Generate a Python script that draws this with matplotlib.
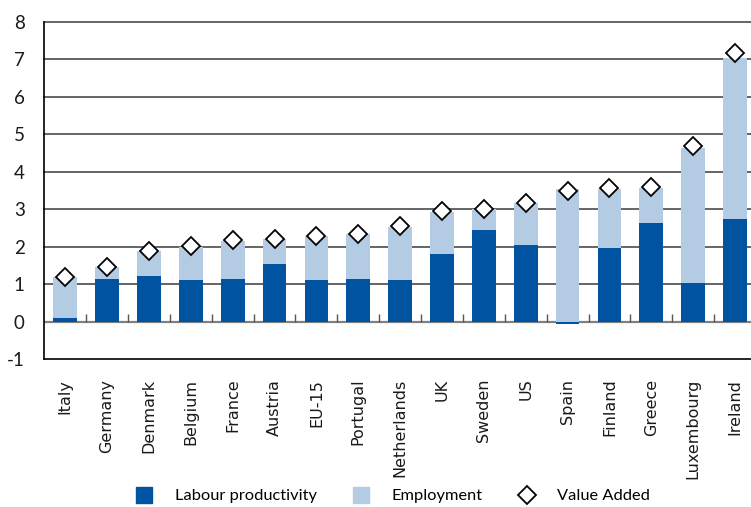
import matplotlib
matplotlib.use("Agg")
import matplotlib.pyplot as plt
from matplotlib.lines import Line2D
import numpy as np

categories = ["Italy", "Germany", "Denmark", "Belgium", "France", "Austria", "EU-15",
              "Portugal", "Netherlands", "UK", "Sweden", "US", "Spain", "Finland",
              "Greece", "Luxembourg", "Ireland"]
labour_productivity = [0.10, 1.14, 1.22, 1.11, 1.14, 1.54, 1.11, 1.14, 1.11, 1.81,
                       2.45, 2.05, -0.05, 1.97, 2.63, 1.03, 2.74]
employment = [1.09, 0.32, 0.67, 0.88, 1.02, 0.67, 1.18, 1.20, 1.42, 1.12,
              0.55, 1.12, 3.54, 1.57, 0.94, 3.60, 4.29]
value_added = [1.20, 1.46, 1.90, 2.02, 2.17, 2.22, 2.30, 2.33, 2.56, 2.95,
               3.00, 3.17, 3.49, 3.56, 3.59, 4.69, 7.16]
y_ticks = [-1, 0, 1, 2, 3, 4, 5, 6, 7, 8]

DARK = "#0053A0"
LIGHT = "#B3CBE3"
FONT = "Lato"

W, H = 751, 507
fig = plt.figure(figsize=(W / 100, H / 100), dpi=100)
left_px, right_px, top_px, bot_px = 44.3, 756.0, 21.7, 359.3
ax = fig.add_axes([left_px / W, 1 - bot_px / H, (right_px - left_px) / W, (bot_px - top_px) / H])

x = np.arange(len(categories))
lp = np.array(labour_productivity)
bottom_emp = np.maximum(lp, 0)

# gridlines
for v in y_ticks[2:]:
    ax.axhline(v, color="#3a3a3a", lw=1.1, zorder=1, clip_on=False)
ax.axhline(0, color="#808080", lw=1.6, zorder=1)
# boundary tick marks on zero line
ax.vlines(x[:-1] + 0.5, 0, 0.22, color="#555555", lw=1.0, zorder=1)

bw = 0.566
ax.bar(x, lp, width=bw, color=DARK, zorder=3, linewidth=0)
ax.bar(x, employment, width=bw, bottom=bottom_emp, color=LIGHT, zorder=3, linewidth=0)
ax.plot(x, value_added, ls="", marker="D", ms=8.7, mfc="white", mec="black", mew=1.3,
        zorder=5, clip_on=False)

ax.set_xlim(-0.5, len(categories) - 0.5)
ax.set_ylim(-1, 8)
ax.set_yticks(y_ticks)
ax.set_yticklabels([str(v) for v in y_ticks], fontsize=13.5, family=FONT, color="#1a1a1a")
ax.set_xticks(x)
ax.set_xticklabels(categories, rotation=90, fontsize=11.5, family="DejaVu Sans", color="#1a1a1a")
ax.tick_params(axis="both", length=0)
ax.tick_params(axis="y", pad=14)
ax.tick_params(axis="x", pad=14)

for s in ["top", "right"]:
    ax.spines[s].set_visible(False)
ax.spines["left"].set_color("black")
ax.spines["left"].set_linewidth(1.2)
ax.spines["bottom"].set_color("black")
ax.spines["bottom"].set_linewidth(1.2)

handles = [
    Line2D([], [], ls="", marker="s", ms=11, color=DARK),
    Line2D([], [], ls="", marker="s", ms=11, color=LIGHT),
    Line2D([], [], ls="", marker="D", ms=9.6, mfc="white", mec="black", mew=1.3),
]
labels = ["Labour productivity", "Employment", "Value Added"]
fig.legend(handles, labels, loc="center", bbox_to_anchor=(393 / W, 11 / H), ncol=3,
           frameon=False, prop={"family": FONT, "size": 11.8}, handlelength=1.0,
           handletextpad=1.35, columnspacing=2.2, numpoints=1, borderaxespad=0, borderpad=0)

fig.savefig("out.png", dpi=100)
